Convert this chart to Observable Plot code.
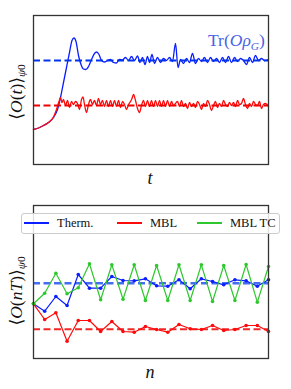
<!DOCTYPE html>
<html>
<head>
<meta charset="utf-8">
<script src="https://cdn.jsdelivr.net/npm/d3@7"></script>
<script src="https://cdn.jsdelivr.net/npm/@observablehq/plot@0.6"></script>
<style>
  body { margin: 0; background: #fff; }
  #wrap { position: relative; width: 291px; height: 389px; overflow: hidden; font-family: "Liberation Serif", "DejaVu Serif", serif; }
  .abs { position: absolute; }
  .ylab { position: absolute; transform: translate(-50%, -50%) rotate(-90deg); white-space: nowrap; font-size: 17.5px; color: #111; }
  .xlab { position: absolute; transform: translate(-50%, -50%); font-size: 18px; font-style: italic; color: #111; }
  sub { font-size: 0.65em; vertical-align: -0.35em; line-height: 0; }
  #legend { position: absolute; left: 21px; top: 213px; width: 257px; height: 19px; border: 1px solid #ccc; border-radius: 3px; background: rgba(255,255,255,0.85); font-size: 12.5px; color: #111; z-index: 5; }
  .li { position: absolute; top: 0; height: 19px; line-height: 19px; white-space: nowrap; }
  .sw { display: inline-block; width: 25px; height: 2px; vertical-align: middle; margin-right: 8px; position: relative; top: -1px; }
</style>
</head>
<body>
<div id="wrap">
  <div id="topPanel" class="abs" style="left:0;top:0"></div>
  <div id="botPanel" class="abs" style="left:0;top:195px"></div>
  <div class="ylab" style="left:16px;top:92px">⟨<i>O</i>(<i>t</i>)⟩<sub><i>ψ</i>0</sub></div>
  <div class="ylab" style="left:16px;top:291px">⟨<i>O</i>(<i>nT</i>)⟩<sub><i>ψ</i>0</sub></div>
  <div class="xlab" style="left:150px;top:178px">t</div>
  <div class="xlab" style="left:150px;top:372px">n</div>
  <div class="abs" style="left:208px;top:30px;font-size:17.5px;color:#4a63e6;white-space:nowrap">Tr(<i>O</i><i>ρ</i><sub><i>G</i></sub>)</div>
  <div id="legend"></div>
</div>
<script>
// ---- top panel: time evolution (turning points of the curves) ----
const blueT = [0,5,10,15,20,24,27,30,33,36,38.5,40.5,42.5,45,47.5,50,52.5,55,58,61,63,65.5,68,71,74,77,80,83,86,89,92,95,98,101,104,106.5,109,111.5,114,116,118.5,121,124,127,130,133,136,139,142,144.5,147,150,153,156,159,162,165,168,171,174,177,180,183,186,189,192,195,198,201,204,207,210,213,216,219,222,225,228,231,235];
const blueV = [35,36.5,39,42,47,55,67,82,97,112,124,126.5,123,109,100,95.5,95,98,105,111,112.5,110,104,102.5,104,105,102,101.5,105,104.5,107,104,108,104,108.5,102,107,100,108,102,110,101,107,102,106,104,107,103,121,97,105,101,106,102,111,101,106,103,107,102,107,103,106,102,107,102,108,102,107,103,106,104,100,107,102,109,104,106,104,105];
const redT = [0,5,10,15,20,23,25.5,27,28.5,30,32,34,36,38,40,42,44,46,48,49.5,51,53,55,57,59,61,63,65,67,69,71,73,75,77,79,81,83,85,87,89,91,93,95,97,98.5,100,102,104,106,108,110,112,114,116,118,120,122,124,126,128,130,132,134,136,138,140,142,144,146,148,150,152,154,156,158,160,162,164,166,168,170,172,174,176,178,180,182,184,186,188,190,192,194,196,198,200,202,204,206,208,210,212,214,216,218,220,222,224,226,228,230,232,235];
const redV = [35,36.5,39,42,47.5,55,63,67,62,65,59,64,57,63,60,63,61,55,65,67.5,60,52,60,65,60,64,59,66,60,64,58,64,58,64,58,64,58,64,57,63,60,55,60,63,66,70,64,56,52,59,64,58,64,58,64,58,64,58,64,58,64,58,64,58,63,59,61,63,58,64,58,61,56,62,58,61,57,63,60,55,61,58,64,60,54,59,63,57,61,58,64,60,58,62,59,62,58,64,60,61,66,60,56,61,58,63,60,59,63,56,60,61,58,63,61,64];
const blueLevelTop = 104;
const redLevelTop = 59;

// ---- bottom panel: stroboscopic values at n = 0..21 ----
const nIdx = d3.range(0, 22);
const thermV = [54.7,47.3,62,53,84,70.3,70.3,82,78,77.7,79.7,72.7,72.3,78.7,69.7,79.7,77,73.7,78.7,77.7,72.3,78.7];
const mblV   = [54.7,39,45.7,17.3,38,38,27,37,27,26.3,32,29,26.3,34,29.7,29,33,28,29,33,33,27];
const tcV    = [54.7,65.3,85.3,64.7,70.7,94.7,58.7,93.7,59.3,93.7,58,93,58,93.7,58,93.7,57,93,58,94,56.3,92];
const blueLevelBot = 75.3;
const redLevelBot = 29.3;

const seriesNames = ["Therm.", "MBL", "MBL TC"];
const seriesColors = ["#0a1eff", "#ff0a0a", "#2ec82e"];

const topBlue = blueT.map((t, i) => ({t, v: blueV[i]}));
const topRed = redT.map((t, i) => ({t, v: redV[i]}));

const chartTop = Plot.plot({
  width: 291, height: 195,
  marginLeft: 33, marginRight: 23, marginTop: 15, marginBottom: 31,
  x: {domain: [0, 235], axis: null},
  y: {domain: [0, 149], axis: null},
  style: {background: "transparent", overflow: "visible"},
  marks: [
    Plot.line(topBlue, {x: "t", y: "v", stroke: seriesColors[0], strokeWidth: 1.3, curve: "monotone-x"}),
    Plot.line(topRed, {x: "t", y: "v", stroke: seriesColors[1], strokeWidth: 1.3, curve: "monotone-x"}),
    Plot.ruleY([blueLevelTop], {stroke: "#0033ee", strokeWidth: 2, strokeDasharray: "7,3.5"}),
    Plot.ruleY([redLevelTop], {stroke: "#ee0000", strokeWidth: 2, strokeDasharray: "7,3.5"}),
    Plot.frame({stroke: "#333", strokeWidth: 1.3})
  ]
});
document.getElementById("topPanel").appendChild(chartTop);

const bt = nIdx.map((n, i) => ({n, v: thermV[i]}));
const bm = nIdx.map((n, i) => ({n, v: mblV[i]}));
const bc = nIdx.map((n, i) => ({n, v: tcV[i]}));

const chartBot = Plot.plot({
  width: 291, height: 194,
  marginLeft: 33, marginRight: 23, marginTop: 10, marginBottom: 31,
  x: {domain: [0, 21], axis: null},
  y: {domain: [0, 153], axis: null},
  style: {background: "transparent", overflow: "visible"},
  marks: [
    Plot.ruleY([blueLevelBot], {stroke: "#2255ee", strokeOpacity: 0.85, strokeWidth: 2.4, strokeDasharray: "7,3.5"}),
    Plot.ruleY([redLevelBot], {stroke: "#ee1111", strokeOpacity: 0.9, strokeWidth: 2, strokeDasharray: "7,3.5"}),
    Plot.line(bt, {x: "n", y: "v", stroke: seriesColors[0], strokeWidth: 1.2}),
    Plot.dot(bt, {x: "n", y: "v", fill: seriesColors[0], r: 1.8}),
    Plot.line(bm, {x: "n", y: "v", stroke: seriesColors[1], strokeWidth: 1.2}),
    Plot.dot(bm, {x: "n", y: "v", fill: seriesColors[1], r: 1.8}),
    Plot.line(bc, {x: "n", y: "v", stroke: seriesColors[2], strokeWidth: 1.2}),
    Plot.dot(bc, {x: "n", y: "v", fill: seriesColors[2], r: 1.8}),
    Plot.frame({stroke: "#333", strokeWidth: 1.3})
  ]
});
document.getElementById("botPanel").appendChild(chartBot);

// legend
const lg = document.getElementById("legend");
const lefts = [2, 95, 175];
seriesNames.forEach((name, i) => {
  const d = document.createElement("div");
  d.className = "li";
  d.style.left = lefts[i] + "px";
  d.innerHTML = `<span class="sw" style="background:${seriesColors[i]}"></span>${name}`;
  lg.appendChild(d);
});
</script>
</body>
</html>
